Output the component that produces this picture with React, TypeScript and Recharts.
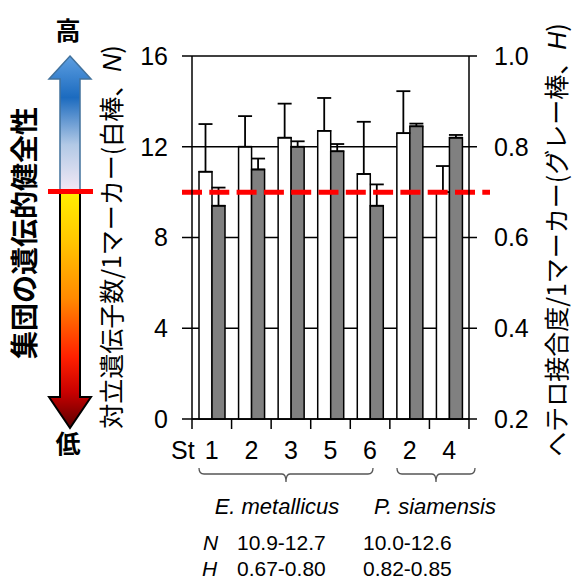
import { ComposedChart, Bar, XAxis, YAxis, CartesianGrid, ErrorBar, ReferenceLine } from 'recharts';

const siteKeys = ['E1', 'E2', 'E3', 'E5', 'E6', 'P2', 'P4'];
const siteLabels = ['1', '2', '3', '5', '6', '2', '4'];
const alleleCounts = [10.9, 12.0, 12.4, 12.7, 10.8, 12.6, 10.0];
const alleleErr = [2.1, 1.35, 1.5, 1.45, 2.3, 1.85, 1.15];
const heterozygosity = [0.67, 0.75, 0.8, 0.79, 0.67, 0.845, 0.82];
const heteroErr = [0.04, 0.024, 0.012, 0.016, 0.047, 0.006, 0.006];
const leftTicks = [0, 4, 8, 12, 16];
const rightTicks = [0.2, 0.4, 0.6, 0.8, 1.0];
const threshold = 10;

const data = siteKeys.map((site, i) => ({
  site,
  N: alleleCounts[i],
  nErr: [0, alleleErr[i]],
  H: heterozygosity[i],
  hErr: [0, heteroErr[i]],
}));

const latin = "'Liberation Sans', Arial, 'Noto Sans CJK JP', sans-serif";
const jp = "'Noto Sans CJK JP', 'Liberation Sans', sans-serif";

function SiteTick(props: any) {
  const { x, y, payload, index } = props;
  const half = payload && payload.offset ? payload.offset : 19.8;
  const last = index === siteKeys.length - 1;
  return (
    <g>
      <line x1={x - half} x2={x - half} y1={y} y2={y + 10} stroke="#000" strokeWidth={1.5} />
      {last && <line x1={x + half} x2={x + half} y1={y} y2={y + 10} stroke="#000" strokeWidth={1.5} />}
      {index === 0 && (
        <text x={x - 29} y={y + 40} textAnchor="middle" fontSize={25} fontFamily={latin} fill="#000">St</text>
      )}
      <text x={x} y={y + 40} textAnchor="middle" fontSize={25} fontFamily={latin} fill="#000">
        {siteLabels[index]}
      </text>
    </g>
  );
}

function DashedLimit(p: any) {
  return (
    <line x1={p.x1 - 10} y1={p.y1} x2={p.x2 + 21} y2={p.y2} stroke="#ff0000" strokeWidth={5} strokeDasharray="20 7.3" />
  );
}

function brace(x1: number, x2: number, top: number) {
  const mid = (x1 + x2) / 2;
  const y = top + 6;
  return `M${x1},${top} Q${x1},${y} ${x1 + 5},${y} L${mid - 4},${y} Q${mid},${y} ${mid},${y + 8} Q${mid},${y} ${mid + 4},${y} L${x2 - 5},${y} Q${x2},${y} ${x2},${top}`;
}

function Overlay() {
  return (
    <svg width={573} height={583} style={{ position: 'absolute', left: 0, top: 0, pointerEvents: 'none' }}>
      <defs>
        <linearGradient id="up" x1="0" y1="57" x2="0" y2="192" gradientUnits="userSpaceOnUse">
          <stop offset="0" stopColor="#5b9de0" />
          <stop offset="0.3" stopColor="#1c6bbf" />
          <stop offset="0.65" stopColor="#b2c9e6" />
          <stop offset="1" stopColor="#f5eaf5" />
        </linearGradient>
        <linearGradient id="down" x1="0" y1="192" x2="0" y2="428" gradientUnits="userSpaceOnUse">
          <stop offset="0" stopColor="#fff000" />
          <stop offset="0.2" stopColor="#ffc800" />
          <stop offset="0.45" stopColor="#ff8a00" />
          <stop offset="0.7" stopColor="#ff2000" />
          <stop offset="0.85" stopColor="#c80000" />
          <stop offset="1" stopColor="#5a0000" />
        </linearGradient>
      </defs>
      <polygon points="70,56 91,79 80,79 80,192 60,192 60,79 49,79" fill="url(#up)" stroke="#41719c" strokeWidth={1.5} />
      <polygon points="60,192 80,192 80,397 91,397 70,428 49,397 60,397" fill="url(#down)" stroke="#000" strokeWidth={2} />
      <rect x={48} y={189} width={45} height={5} fill="#ff0000" />
      <text x={68} y={40} textAnchor="middle" fontSize={25} fontWeight="bold" fontFamily={jp} fill="#000">高</text>
      <text x={68} y={453} textAnchor="middle" fontSize={25} fontWeight="bold" fontFamily={jp} fill="#000">低</text>
      <text transform="translate(35,233) rotate(-90)" textAnchor="middle" fontSize={28} fontWeight="bold" fontFamily={jp} fill="#000">
        集団の遺伝的健全性
      </text>
      <text transform="translate(121,237) rotate(-90)" textAnchor="middle" fontSize={25} fontFamily={jp} fill="#000">
        対立遺伝子数/1マーカー(白棒、<tspan fontStyle="italic" fontFamily={latin}>N</tspan>)
      </text>
      <text transform="translate(566,240) rotate(-90)" textAnchor="middle" fontSize={25} fontFamily={jp} fill="#000">
        ヘテロ接合度/1マーカー(グレー棒、<tspan fontStyle="italic" fontFamily={latin}>H</tspan>)
      </text>
      <path d={brace(199, 373, 468)} fill="none" stroke="#555" strokeWidth={1.3} />
      <path d={brace(397, 475, 468)} fill="none" stroke="#555" strokeWidth={1.3} />
      <g fontFamily={latin} fill="#000">
        <text x={277} y={514} textAnchor="middle" fontSize={22} fontStyle="italic">E. metallicus</text>
        <text x={435} y={514} textAnchor="middle" fontSize={22} fontStyle="italic">P. siamensis</text>
        <text x={203} y={550} fontSize={21} fontStyle="italic">N</text>
        <text x={237} y={550} fontSize={21}>10.9-12.7</text>
        <text x={363} y={550} fontSize={21}>10.0-12.6</text>
        <text x={202} y={576} fontSize={21} fontStyle="italic">H</text>
        <text x={237} y={576} fontSize={21}>0.67-0.80</text>
        <text x={363} y={576} fontSize={21}>0.82-0.85</text>
      </g>
    </svg>
  );
}

export default function App() {
  return (
    <div style={{ position: 'absolute', left: 0, top: 0, width: 573, height: 583, background: '#fff' }}>
      <div style={{ position: 'absolute', left: 0, top: 0 }}>
        <ComposedChart
          width={573}
          height={583}
          data={data}
          margin={{ top: 56, right: 44, bottom: 134, left: 132 }}
          barGap={0}
          barSize={13}
        >
          <CartesianGrid yAxisId="left" vertical={false} stroke="#000" strokeWidth={1.5} />
          <XAxis
            dataKey="site"
            tick={<SiteTick />}
            tickLine={false}
            tickSize={0}
            tickMargin={0}
            height={30}
            interval={0}
            axisLine={{ stroke: '#000', strokeWidth: 1.5 }}
          />
          <YAxis
            yAxisId="left"
            domain={[0, 16]}
            ticks={leftTicks}
            width={60}
            tickSize={10}
            tickMargin={14}
            tick={{ fill: '#000', fontSize: 25, fontFamily: latin }}
            tickLine={{ stroke: '#000', strokeWidth: 1.5 }}
            axisLine={{ stroke: '#000', strokeWidth: 1.5 }}
          />
          <YAxis
            yAxisId="right"
            orientation="right"
            domain={[0.2, 1.0]}
            ticks={rightTicks}
            tickFormatter={(v: number) => v.toFixed(1)}
            width={60}
            tickSize={8}
            tickMargin={17}
            tick={{ fill: '#000', fontSize: 25, fontFamily: latin, textAnchor: 'start' }}
            tickLine={{ stroke: '#000', strokeWidth: 1.5 }}
            axisLine={{ stroke: '#000', strokeWidth: 1.5 }}
          />
          <Bar yAxisId="left" dataKey="N" fill="#fff" stroke="#000" strokeWidth={1.5} isAnimationActive={false}>
            <ErrorBar dataKey="nErr" width={7} stroke="#000" strokeWidth={1.8} direction="y" isAnimationActive={false} />
          </Bar>
          <Bar yAxisId="right" dataKey="H" fill="#808080" stroke="#000" strokeWidth={1.5} isAnimationActive={false}>
            <ErrorBar dataKey="hErr" width={7} stroke="#000" strokeWidth={1.8} direction="y" isAnimationActive={false} />
          </Bar>
          <ReferenceLine yAxisId="left" y={threshold} shape={<DashedLimit />} />
        </ComposedChart>
      </div>
      <Overlay />
    </div>
  );
}
